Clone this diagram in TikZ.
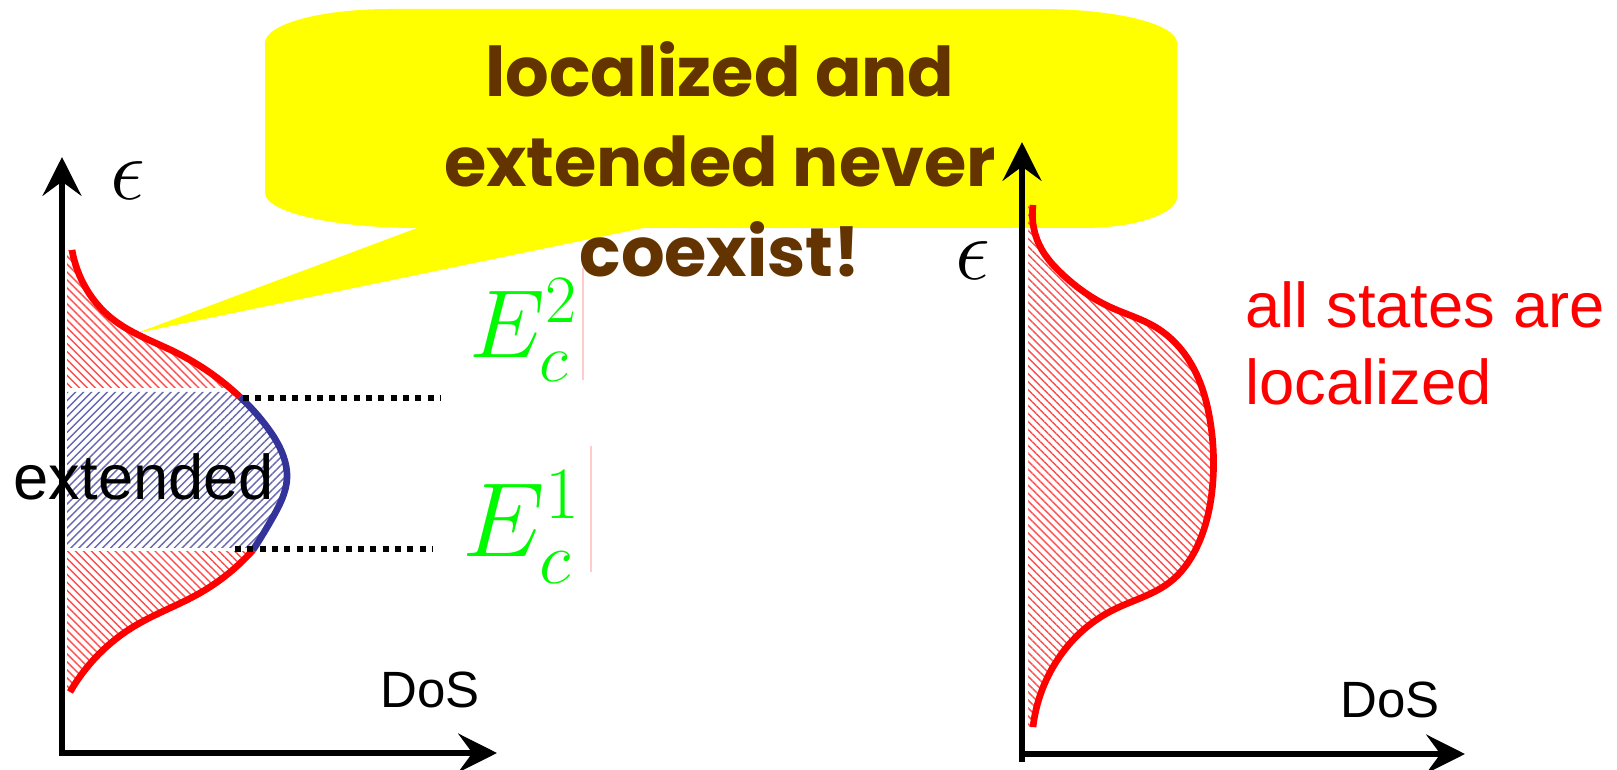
\RequirePackage{fix-cm}
\documentclass[tikz,border=0pt]{standalone}
\usepackage{fontspec}
\newfontfamily\arialfont{Liberation Sans}
\newfontfamily\bubblefont{Poppins}
\usetikzlibrary{hobby, arrows.meta, patterns.meta}
\definecolor{bubbleyellow}{RGB}{255,255,0}
\definecolor{bubblebrown}{RGB}{99,51,0}
\definecolor{levelgreen}{RGB}{0,250,0}
\definecolor{extblue}{RGB}{51,51,153}
\tikzset{
  axis/.style={line width=1.7pt, {Stealth[length=11pt,width=11pt,inset=4pt]}-{Stealth[length=11pt,width=11pt,inset=4pt]}},
  uparrow/.style={line width=1.7pt, -{Stealth[length=11pt,width=11pt,inset=4pt]}},
  doscurve/.style={red, line width=1.9pt},
  extcurve/.style={extblue, line width=1.9pt},
  redhatch/.style={pattern={Lines[angle=-45,distance=1.6pt,line width=0.4pt]}, pattern color=red!70},
  bluehatch/.style={pattern={Lines[angle=45,distance=1.6pt,line width=0.4pt]}, pattern color=extblue!75},
  level/.style={line width=1.6pt, dash pattern=on 1.7pt off 1.8pt},
  ghost/.style={red!20, line width=0.3pt},
  sans/.style={inner sep=0pt, font=\arialfont\fontsize{#1}{#1}\selectfont},
  ecsym/.style={inner sep=0pt, text=levelgreen, font=\fontsize{#1}{#1}\selectfont},
}
\begin{document}
\begin{tikzpicture}[use Hobby shortcut, x=0.01cm, y=-0.01cm]
  \useasboundingbox (0,0) rectangle (1617,770);

  % speech bubble with its tail pointing at the left curve
  \fill[bubbleyellow] (265,43) .. controls (265,24) and (321,9) .. (390,9)
    -- (1040,9) .. controls (1116,9) and (1177,24) .. (1177,43)
    -- (1177,197) .. controls (1177,214) and (1135,228) .. (1083,228)
    -- (643,228) -- (137,333) -- (417,228)
    .. controls (333,228) and (265,212) .. (265,193) -- cycle;
  \node[anchor=base, inner sep=0pt, align=center, text=bubblebrown,
        font=\bubblefont\bfseries\fontsize{19.5}{25.6}\selectfont] (msg) at (720,277)
        {localized and\\extended never\\coexist!};

  % ---- left panel: mobility edges ----
  \coordinate (L0) at (62,753);   % origin
  \coordinate (LY) at (62,157);   % energy axis tip
  \coordinate (LX) at (497,753);  % DoS axis tip

  \begin{scope}
    \clip (67,240) rectangle (300,388);
    \fill[redhatch] (72,250)..(87,290)..(110,317)..(177,353)..(240,397)
      -- (67,397) -- (67,250) -- cycle;
  \end{scope}
  \begin{scope}
    \clip (67,392) rectangle (300,548);
    \fill[bluehatch] (240,397)..(267,427)..(283,455)..(287,478)..(273,517)..(253,550)
      -- (67,550) -- (67,392) -- (235,392) -- cycle;
  \end{scope}
  \begin{scope}
    \clip (67,552) rectangle (300,700);
    \fill[redhatch] (253,550)..(200,593)..(133,627)..(100,653)..(70,692)
      -- (67,692) -- (67,550) -- cycle;
  \end{scope}

  \draw[doscurve] (72,250)..(87,290)..(110,317)..(177,353)..(240,397);
  \draw[extcurve] (240,397)..(267,427)..(283,455)..(287,478)..(273,517)..(253,550);
  \draw[doscurve] (253,550)..(200,593)..(133,627)..(100,653)..(70,692);

  \draw[axis] (LY) |- (LX);

  \coordinate (Ec2a) at (243,398);  % upper mobility edge
  \coordinate (Ec2b) at (440,398);
  \coordinate (Ec1a) at (235,549);  % lower mobility edge
  \coordinate (Ec1b) at (433,549);
  \draw[level] (Ec2a) -- (Ec2b);
  \draw[level] (Ec1a) -- (Ec1b);

  \node[font=\fontsize{25}{30}\selectfont] (epsL) at (128,181) {$\epsilon$};
  \node[sans=18, anchor=base west] (extLabel) at (13,500) {extended};
  \node[sans=14.5, anchor=base west] (dosL) at (380,708) {DoS};
  \node[ecsym=27.5, anchor=base west] (ecTwo) at (469,358) {$E_c^2$};
  \node[ecsym=30, anchor=base west] (ecOne) at (462,557) {$E_c^1$};
  \draw[ghost] (583,268) -- (583,380);
  \draw[ghost] (591,446) -- (591,572);

  % ---- right panel: everything localized ----
  \coordinate (R0) at (1022,762);   % bottom of energy axis
  \coordinate (RY) at (1022,142);   % energy axis tip
  \coordinate (RH) at (1022,754);   % start of DoS axis
  \coordinate (RX) at (1465,754);   % DoS axis tip

  \fill[redhatch] (1033,205)..(1042,250)..(1060,272)..(1110,307)..(1157,328)..(1190,362)
    ..(1210,420)..(1213,480)..(1200,540)..(1170,582)..(1113,610)..(1080,633)..(1053,667)..(1033,727)
    -- (1028,727) -- (1028,205) -- cycle;
  \draw[doscurve] (1033,205)..(1042,250)..(1060,272)..(1110,307)..(1157,328)..(1190,362)
    ..(1210,420)..(1213,480)..(1200,540)..(1170,582)..(1113,610)..(1080,633)..(1053,667)..(1033,727);

  \draw[uparrow] (R0) -- (RY);
  \draw[uparrow] (RH) -- (RX);

  \node[font=\fontsize{25}{30}\selectfont] (epsR) at (973,261) {$\epsilon$};
  \node[sans=14.5, anchor=base west] (dosR) at (1340,718) {DoS};
  \node[anchor=base west, inner sep=0pt, align=left, text=red,
        font=\arialfont\fontsize{18}{21.9}\selectfont] (allLoc) at (1245,405)
        {all states are\\localized};
\end{tikzpicture}
\end{document}
